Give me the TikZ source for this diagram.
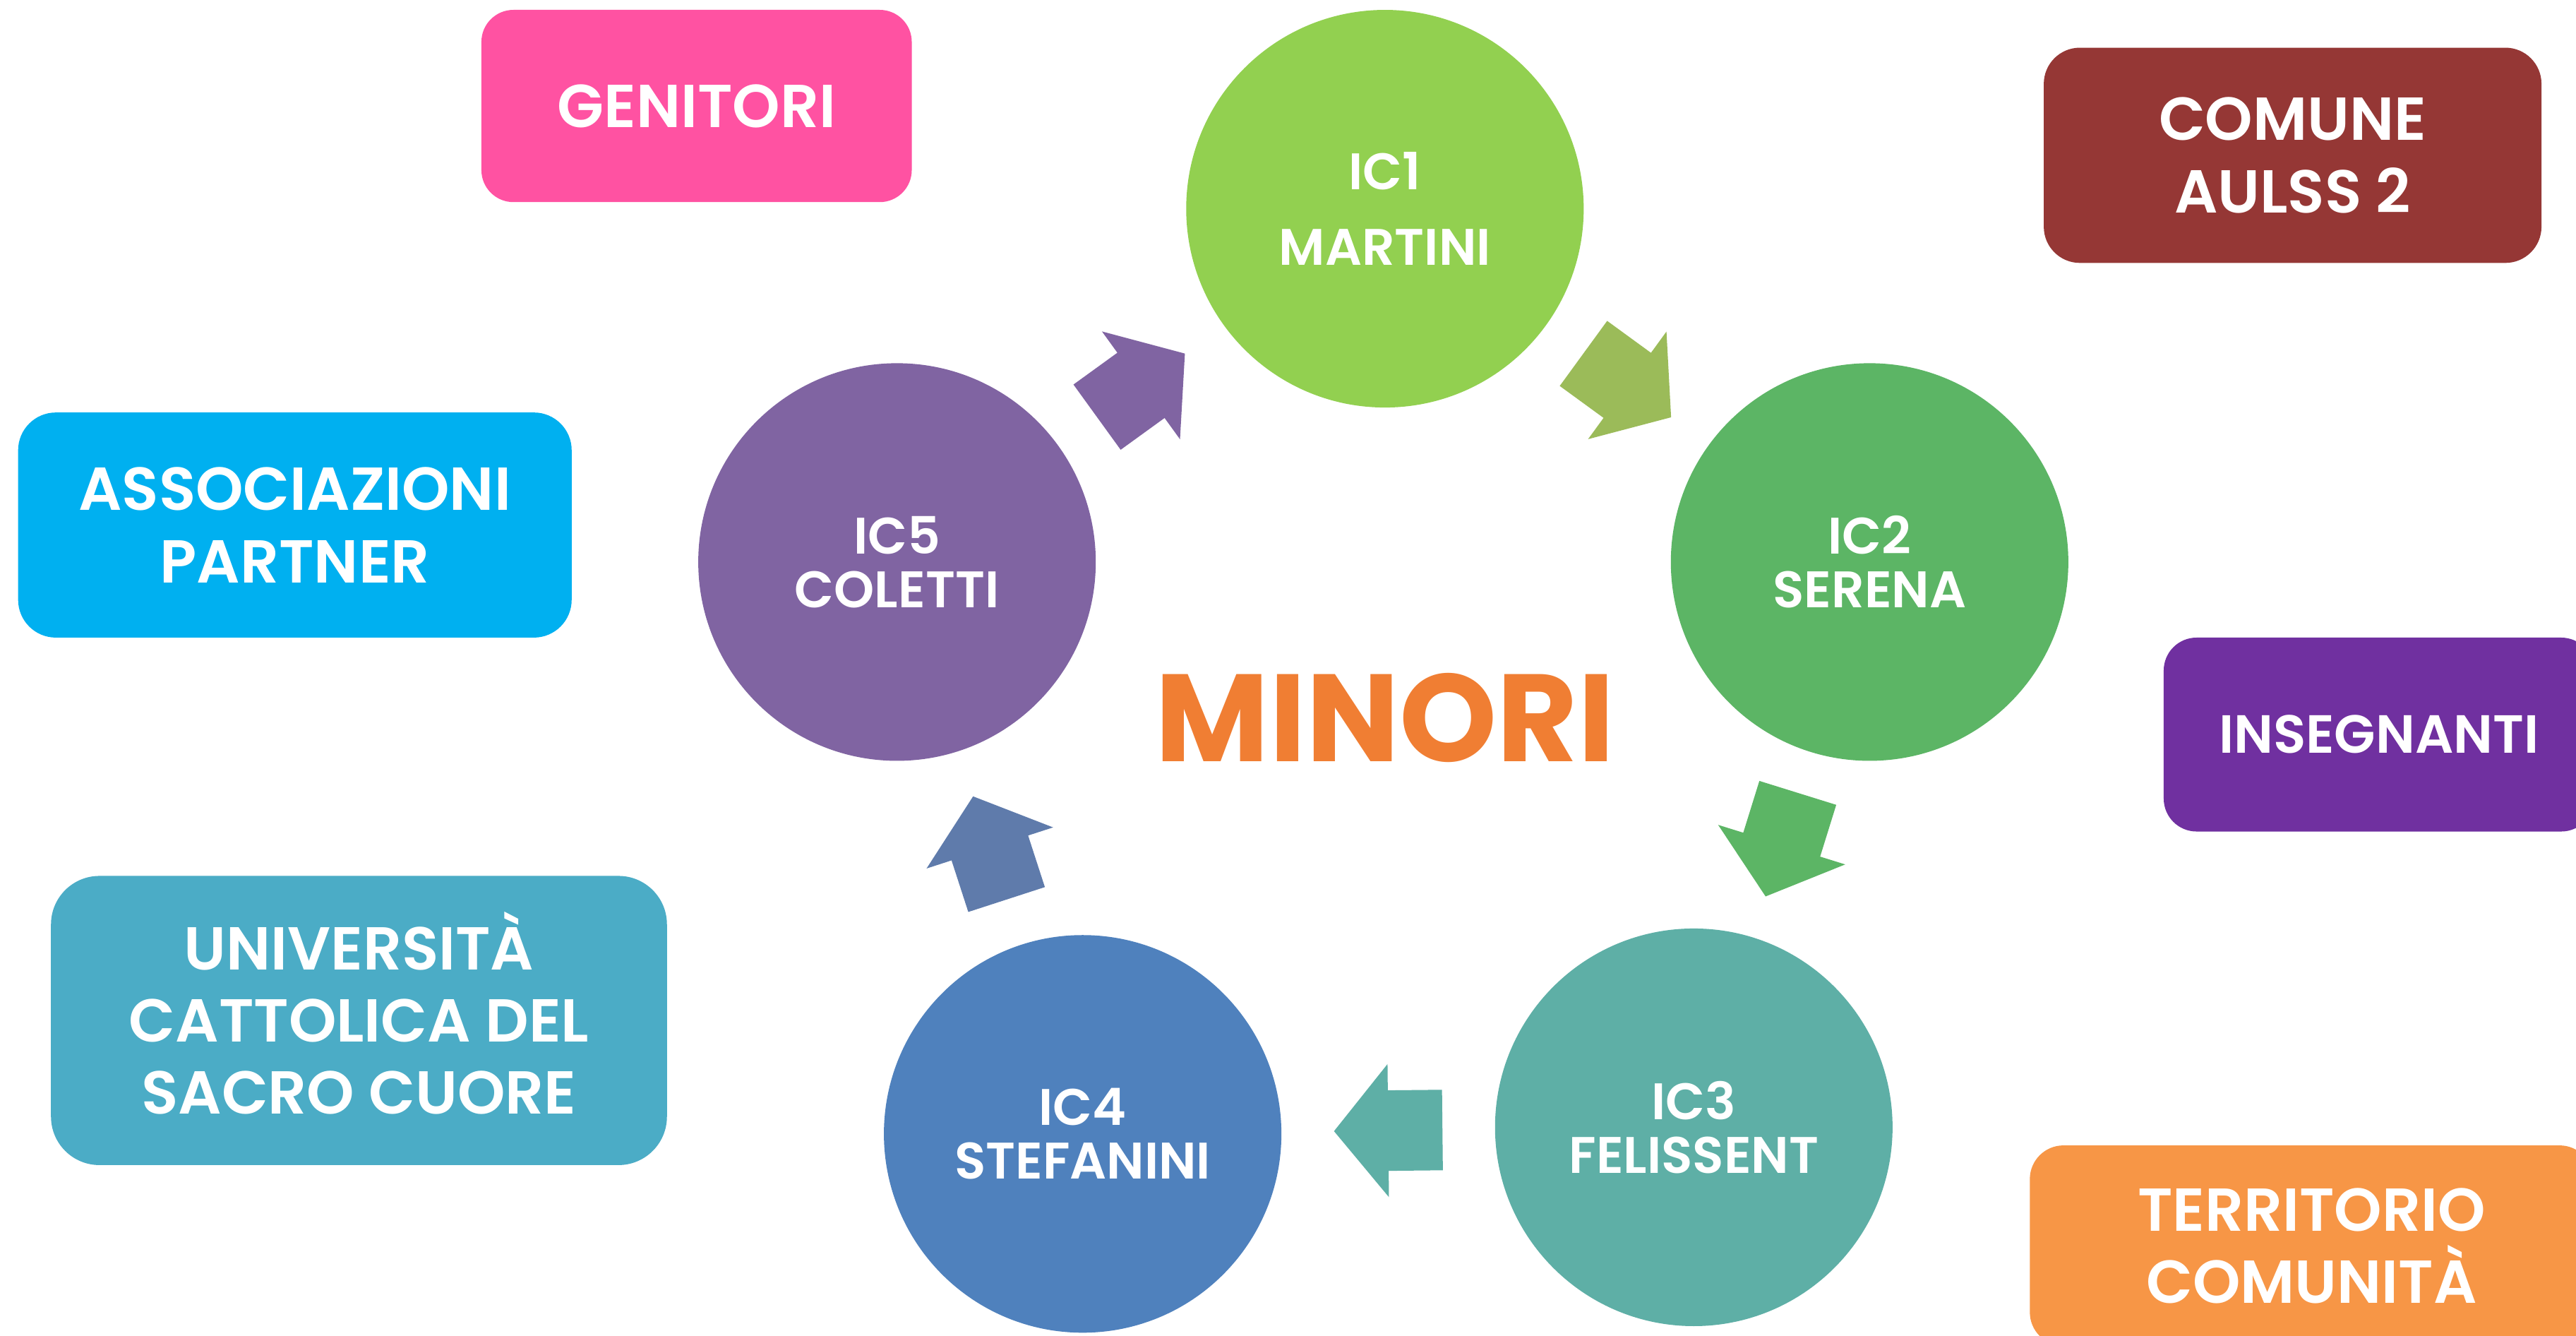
\documentclass[tikz,border=0pt]{standalone}
\usepackage{fontspec}
\setmainfont{Poppins}[BoldFont={Poppins SemiBold}]
\newfontfamily\heavyfont{Poppins}[UprightFont={* Bold}]
\usetikzlibrary{calc}

\definecolor{icone}{HTML}{92D050}
\definecolor{ictwo}{HTML}{5CB565}
\definecolor{icthree}{HTML}{5EAFA6}
\definecolor{icfour}{HTML}{4F81BD}
\definecolor{icfive}{HTML}{8064A2}
\definecolor{flowone}{HTML}{9BBB59}
\definecolor{flowfour}{HTML}{5F7BAB}
\definecolor{genitori}{HTML}{FF52A2}
\definecolor{comune}{HTML}{953735}
\definecolor{associazioni}{HTML}{00B0F0}
\definecolor{insegnanti}{HTML}{7030A0}
\definecolor{universita}{HTML}{4BACC6}
\definecolor{territorio}{HTML}{F79646}
\definecolor{minori}{HTML}{F07E33}

\begin{document}
\begin{tikzpicture}[x=0.02cm,y=-0.02cm,
    school/.style={circle,minimum size=4.84cm,inner sep=0pt,text=white,align=center,
      font=\fontsize{17.8}{18.5}\selectfont\bfseries},
    partner/.style={rectangle,rounded corners=#1,inner sep=0pt,text=white,align=center,
      font=\fontsize{21}{25}\selectfont\bfseries},
    flow/.pic={\fill[#1] (-33,-24.5) -- (0,-24.5) -- (0,-40.5) -- (33,0) -- (0,40.5) -- (0,24.5) -- (-33,24.5) -- cycle;}]
				\useasboundingbox (0,0) rectangle (1568,812.6);
				\clip (0,0) rectangle (1568,812.6);
				\fill[white] (0,0) rectangle (1568,812.6);
				% istituti comprensivi
				\node[school,fill=icone,font=\fontsize{17.8}{26}\selectfont\bfseries] (ic1) at (843,127) {IC1\\MARTINI};
				\node[school,fill=ictwo] (ic2) at (1138,342) {IC2\\SERENA};
				\node[school,fill=icthree] (ic3) at (1031,686) {IC3\\FELISSENT};
				\node[school,fill=icfour] (ic4) at (659,690) {IC4\\STEFANINI};
				\node[school,fill=icfive] (ic5) at (546,342) {IC5\\COLETTI};
				\node[text=minori,font=\fontsize{43}{43}\selectfont\heavyfont] (minori) at (843,437) {MINORI};
				% frecce
				\foreach \from/\to/\col in {ic1/ic2/flowone,ic2/ic3/ictwo,ic3/ic4/icthree,ic4/ic5/flowfour,ic5/ic1/icfive}
					\path let \p1=($(\to)-(\from)$), \n1={atan2(\y1,\x1)} in ($(\from)!0.5!(\to)$) pic[rotate=\n1] {flow=\col};
				% partner
				\node[partner=0.39cm,fill=genitori,minimum width=5.24cm,minimum height=2.34cm] (gen) at (424,64.5) {GENITORI};
				\node[partner=0.44cm,fill=comune,minimum width=6.06cm,minimum height=2.62cm] (com) at (1395.5,94.5) {COMUNE\\AULSS 2};
				\node[partner=0.46cm,fill=associazioni,minimum width=6.74cm,minimum height=2.74cm] (ass) at (179.5,319.5) {ASSOCIAZIONI\\PARTNER};
				\node[partner=0.4cm,fill=insegnanti,minimum width=5.24cm,minimum height=2.36cm,font=\fontsize{18.6}{25}\selectfont\bfseries] (ins) at (1448,447) {INSEGNANTI};
				\node[partner=0.59cm,fill=universita,minimum width=7.5cm,minimum height=3.52cm] (uni) at (218.5,621) {UNIVERSIT\smash{À}\\CATTOLICA DEL\\SACRO CUORE};
				\node[partner=0.41cm,fill=territorio,minimum width=6.86cm,minimum height=2.44cm] (ter) at (1407,758) {TERRITORIO\\COMUNITÀ};
			\end{tikzpicture}
\end{document}
